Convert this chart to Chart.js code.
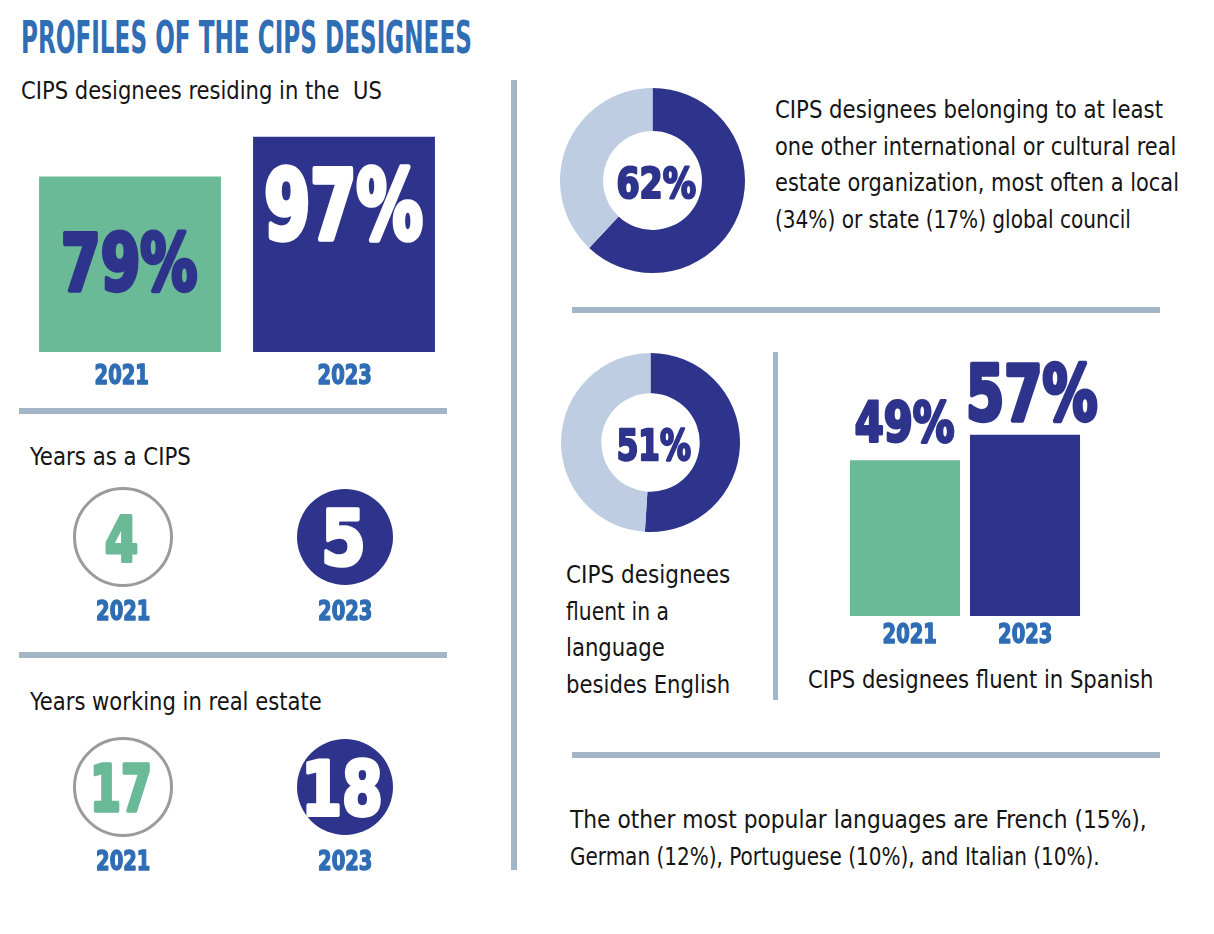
<!DOCTYPE html>
<html>
<head>
<meta charset="utf-8">
<script src="https://cdn.jsdelivr.net/npm/chart.js@4.4.1/dist/chart.umd.min.js"></script>
<style>
  body { margin: 0; width: 1214px; height: 934px; background: #fff; position: relative; overflow: hidden;
         font-family: "Liberation Sans Narrow", "DejaVu Sans Condensed", sans-serif; color: #141414; }
  .txt { position: absolute; font-size: 25px; line-height: 36.5px; white-space: nowrap; transform-origin: 0 0; }
  #title { position: absolute; left: 21px; top: 15px; font-size: 45px; line-height: 45px; font-weight: bold;
           color: #2f6db5; transform-origin: 0 0; white-space: nowrap; }
  .rule { position: absolute; background: #a3b6c8; }
  canvas { position: absolute; }
</style>
</head>
<body>
<div id="title" data-w="451">PROFILES OF THE CIPS DESIGNEES</div>
<div class="txt" data-w="361" style="left:21px; top:73px;">CIPS designees residing in the&nbsp; US</div>
<div class="txt" data-w="161" style="left:30px; top:439px;">Years as a CIPS</div>
<div class="txt" data-w="292" style="left:30px; top:684px;">Years working in real estate</div>

<div class="txt" data-w="388" style="left:775px; top:92px;">CIPS designees belonging to at least</div>
<div class="txt" data-w="401" style="left:775px; top:128.5px;">one other international or cultural real</div>
<div class="txt" data-w="404" style="left:775px; top:165px;">estate organization, most often a local</div>
<div class="txt" data-w="356" style="left:775px; top:201.5px;">(34%) or state (17%) global council</div>

<div class="txt" data-w="164" style="left:566px; top:557px;">CIPS designees</div>
<div class="txt" data-w="103" style="left:566px; top:593.5px;">fluent in a</div>
<div class="txt" data-w="99" style="left:566px; top:630px;">language</div>
<div class="txt" data-w="164" style="left:566px; top:666.5px;">besides English</div>

<div class="txt" data-w="345" style="left:808px; top:662px;">CIPS designees fluent in Spanish</div>
<div class="txt" data-w="577" style="left:570px; top:802px;">The other most popular languages are French (15%),</div>
<div class="txt" data-w="530" style="left:570px; top:838.5px;">German (12%), Portuguese (10%), and Italian (10%).</div>

<div class="rule" style="left:19px; top:408px; width:428px; height:6px;"></div>
<div class="rule" style="left:19px; top:652px; width:428px; height:6px;"></div>
<div class="rule" style="left:511px; top:80px; width:6px; height:790px;"></div>
<div class="rule" style="left:572px; top:307px; width:588px; height:6px;"></div>
<div class="rule" style="left:572px; top:752px; width:588px; height:6px;"></div>
<div class="rule" style="left:773px; top:352px; width:5px; height:348px;"></div>

<canvas id="usChart" width="428" height="290" style="left:23px; top:120px;"></canvas>
<canvas id="orgChart" width="185" height="185" style="left:560px; top:88px;"></canvas>
<canvas id="langChart" width="179" height="179" style="left:561px; top:353px;"></canvas>
<canvas id="spanishChart" width="320" height="386" style="left:805px; top:290px;"></canvas>
<canvas id="cipsChart" width="444" height="150" style="left:12px; top:480px;"></canvas>
<canvas id="estateChart" width="444" height="150" style="left:12px; top:730px;"></canvas>

<script>
const years = ['2021', '2023'];
const usResidents = [79, 97];
const spanishFluent = [49, 57];
const yearsAsCips = [4, 5];
const yearsInRealEstate = [17, 18];
const orgMember = 62;
const otherLanguage = 51;

const NAVY = '#2e348b';
const GREEN = '#6aba98';
const LIGHT = '#bfcde2';
const BLUE = '#2f6db5';
const FONT = '"Liberation Sans Narrow", "DejaVu Sans Condensed", sans-serif';

Chart.defaults.animation = false;
Chart.defaults.events = [];
Chart.defaults.plugins.legend.display = false;
Chart.defaults.plugins.tooltip.enabled = false;

// squeeze html text to the widths of the condensed face in the original
document.querySelectorAll('[data-w]').forEach(el => {
    el.style.transform = 'scaleX(' + (el.dataset.w / el.offsetWidth) + ')';
});

// draws heavy text so that its ink is capH tall, width wide and centred on (cx, cy)
function fitText(ctx, text, color, cx, cy, capH, width) {
    ctx.save();
    ctx.font = 'bold ' + Math.round(capH / 0.73) + 'px ' + FONT;
    ctx.textAlign = 'left';
    ctx.textBaseline = 'alphabetic';
    const m = ctx.measureText(text);
    const inkW = m.actualBoundingBoxLeft + m.actualBoundingBoxRight;
    const inkH = m.actualBoundingBoxAscent + m.actualBoundingBoxDescent;
    const lw = capH * 0.055;
    const sx = (width - lw) / inkW;
    const sy = (capH - lw) / inkH;
    ctx.translate(cx, cy);
    ctx.scale(sx, sy);
    ctx.fillStyle = color;
    ctx.strokeStyle = color;
    ctx.lineWidth = lw / sx;
    ctx.lineJoin = 'round';
    const x = m.actualBoundingBoxLeft - inkW / 2;
    const y = (m.actualBoundingBoxAscent - m.actualBoundingBoxDescent) / 2;
    ctx.fillText(text, x, y);
    ctx.strokeText(text, x, y);
    ctx.restore();
}

function yearLabel(ctx, text, cx, cy) {
    fitText(ctx, text, BLUE, cx, cy, 21, 53);
}

// ---- residing in the US ----
new Chart(document.getElementById('usChart'), {
    type: 'bar',
    data: {
        labels: years,
        datasets: [{ data: usResidents, backgroundColor: [GREEN, NAVY], borderWidth: 0 }]
    },
    options: {
        responsive: false,
        layout: { padding: { top: 10, bottom: 58 } },
        scales: {
            x: { display: false },
            y: { display: false, min: 0, max: 100 }
        },
        datasets: { bar: { barPercentage: 1, categoryPercentage: 0.85 } }
    },
    plugins: [{
        id: 'usLabels',
        afterDatasetsDraw(chart) {
            const ctx = chart.ctx;
            chart.getDatasetMeta(0).data.forEach((bar, i) => {
                const text = usResidents[i] + '%';
                if (i === 0) {
                    fitText(ctx, text, NAVY, bar.x + 0.5, (bar.y + bar.base) / 2 - 3, 63, 135);
                    yearLabel(ctx, years[i], bar.x - 8, bar.base + 22);
                } else {
                    fitText(ctx, text, '#fff', bar.x, bar.y + 66.5, 77, 158);
                    yearLabel(ctx, years[i], bar.x + 1, bar.base + 22);
                }
            });
        }
    }]
});

// ---- doughnuts ----
function donut(id, value, cutout, labelW) {
    new Chart(document.getElementById(id), {
        type: 'doughnut',
        data: {
            labels: ['yes', 'no'],
            datasets: [{ data: [value, 100 - value], backgroundColor: [NAVY, LIGHT], borderWidth: 0 }]
        },
        options: { responsive: false, cutout: cutout },
        plugins: [{
            id: 'centerLabel',
            afterDatasetsDraw(chart) {
                const arc = chart.getDatasetMeta(0).data[0];
                fitText(chart.ctx, value + '%', NAVY, arc.x + 4, arc.y + 1.5, 35, labelW);
            }
        }]
    });
}
donut('orgChart', orgMember, '53.5%', 79);
donut('langChart', otherLanguage, '55%', 73);

// ---- fluent in Spanish ----
new Chart(document.getElementById('spanishChart'), {
    type: 'bar',
    data: {
        labels: years,
        datasets: [{ data: spanishFluent, backgroundColor: [GREEN, NAVY], borderWidth: 0 }]
    },
    options: {
        responsive: false,
        layout: { padding: { top: 8, bottom: 60, left: 40, right: 40 } },
        scales: {
            x: { display: false },
            y: { display: false, min: 0, max: 100 }
        },
        datasets: { bar: { barPercentage: 1, categoryPercentage: 0.917 } }
    },
    plugins: [{
        id: 'spanishLabels',
        afterDatasetsDraw(chart) {
            const ctx = chart.ctx;
            chart.getDatasetMeta(0).data.forEach((bar, i) => {
                const text = spanishFluent[i] + '%';
                if (i === 0) {
                    fitText(ctx, text, NAVY, bar.x, bar.y - 39.5, 45, 100);
                    yearLabel(ctx, years[i], bar.x + 5, bar.base + 17);
                } else {
                    fitText(ctx, text, NAVY, bar.x + 8, bar.y - 43, 62, 130);
                    yearLabel(ctx, years[i], bar.x + 0.5, bar.base + 17);
                }
            });
        }
    }]
});

// ---- years as circles ----
function circles(id, values, sizes) {
    new Chart(document.getElementById(id), {
        type: 'scatter',
        data: {
            labels: years,
            datasets: [{
                data: years.map(y => ({ x: y, y: 0 })),
                pointRadius: [48.5, 48],
                backgroundColor: ['#fff', NAVY],
                borderColor: ['#9b9b9b', NAVY],
                borderWidth: [3, 0],
                clip: false
            }]
        },
        options: {
            responsive: false,
            layout: { autoPadding: false, padding: { bottom: 36 } },
            scales: {
                x: { type: 'category', display: false, offset: true },
                y: { display: false, min: -1, max: 1 }
            }
        },
        plugins: [{
            id: 'circleLabels',
            afterDatasetsDraw(chart) {
                const ctx = chart.ctx;
                chart.getDatasetMeta(0).data.forEach((pt, i) => {
                    const s = sizes[i];
                    fitText(ctx, String(values[i]), i === 0 ? GREEN : '#fff', pt.x - 1.5, pt.y + 0.5, s[0], s[1]);
                    yearLabel(ctx, years[i], pt.x + 0.5, pt.y + 73);
                });
            }
        }]
    });
}
circles('cipsChart', yearsAsCips, [[49, 33], [61, 40]]);
circles('estateChart', yearsInRealEstate, [[50, 57], [60, 75]]);
</script>
</body>
</html>
